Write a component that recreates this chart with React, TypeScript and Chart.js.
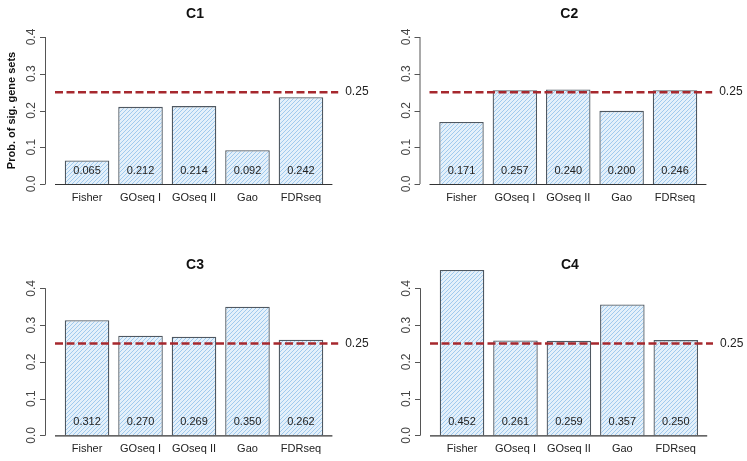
import React, { useEffect, useRef } from "react";
import { Chart, registerables } from "chart.js";

Chart.register(...registerables);

// ---------- data ----------
const categories = ["Fisher", "GOseq I", "GOseq II", "Gao", "FDRseq"];
const panelTitles = ["C1", "C2", "C3", "C4"];

// bar heights as drawn in the picture
const c1Values = [0.064, 0.21, 0.212, 0.092, 0.236];
const c2Values = [0.169, 0.255, 0.257, 0.199, 0.255];
const c3Values = [0.313, 0.271, 0.268, 0.35, 0.26];
const c4Values = [0.45, 0.258, 0.257, 0.356, 0.259];

// printed value labels
const c1Labels = ["0.065", "0.212", "0.214", "0.092", "0.242"];
const c2Labels = ["0.171", "0.257", "0.240", "0.200", "0.246"];
const c3Labels = ["0.312", "0.270", "0.269", "0.350", "0.262"];
const c4Labels = ["0.452", "0.261", "0.259", "0.357", "0.250"];

const yTicks = [0, 0.1, 0.2, 0.3, 0.4];
const yTickLabels = ["0.0", "0.1", "0.2", "0.3", "0.4"];
const refValue = 0.25;
const refLabel = "0.25";
const yTitle = "Prob. of sig. gene sets";

const FONT = "'Liberation Sans', Arial, Helvetica, sans-serif";

type PanelDef = {
  title: string;
  values: number[];
  labels: string[];
  left: number;
  top: number;
  width: number;
  height: number;
  pad: { left: number; right: number; top: number; bottom: number };
  showYTitle: boolean;
};

const panels: PanelDef[] = [
  {
    title: panelTitles[0], values: c1Values, labels: c1Labels,
    left: 0, top: 0, width: 374, height: 220,
    pad: { left: 60.3, right: 46.3, top: 37, bottom: 36 }, showYTitle: true,
  },
  {
    title: panelTitles[1], values: c2Values, labels: c2Labels,
    left: 374, top: 0, width: 373, height: 220,
    pad: { left: 60.8, right: 45.3, top: 37, bottom: 36 }, showYTitle: false,
  },
  {
    title: panelTitles[2], values: c3Values, labels: c3Labels,
    left: 0, top: 220, width: 374, height: 241,
    pad: { left: 60.3, right: 46.3, top: 68.3, bottom: 25.7 }, showYTitle: false,
  },
  {
    title: panelTitles[3], values: c4Values, labels: c4Labels,
    left: 374, top: 220, width: 373, height: 241,
    pad: { left: 61.3, right: 44.5, top: 68.3, bottom: 25.7 }, showYTitle: false,
  },
];

function makeHatch(): CanvasPattern | string {
  const c = document.createElement("canvas");
  const s = 4;
  c.width = s;
  c.height = s;
  const g = c.getContext("2d");
  if (!g) return "#d3e6f6";
  g.fillStyle = "#e4f0fa";
  g.fillRect(0, 0, s, s);
  g.strokeStyle = "#a0caee";
  g.lineWidth = 1;
  g.beginPath();
  g.moveTo(-1, s + 1);
  g.lineTo(s + 1, -1);
  g.moveTo(-1, 1);
  g.lineTo(1, -1);
  g.moveTo(s - 1, s + 1);
  g.lineTo(s + 1, s - 1);
  g.stroke();
  const p = g.createPattern(c, "repeat");
  return p || "#d3e6f6";
}

function PanelChart({ def }: { def: PanelDef }) {
  const ref = useRef<HTMLCanvasElement | null>(null);

  useEffect(() => {
    const canvas = ref.current;
    if (!canvas) return;

    const decor = {
      id: "rDecor",
      afterDatasetsDraw(chart: any) {
        const ctx = chart.ctx as CanvasRenderingContext2D;
        const area = chart.chartArea;
        const ys = chart.scales.y;
        const xs = chart.scales.x;
        const meta = chart.getDatasetMeta(0);

        ctx.save();
        // value labels
        ctx.fillStyle = "#222";
        ctx.font = `11px ${FONT}`;
        ctx.textAlign = "center";
        ctx.textBaseline = "middle";
        def.labels.forEach((t, i) => {
          const x = meta.data[i] ? meta.data[i].x : xs.getPixelForValue(i);
          ctx.fillText(t, x, area.bottom - 13);
        });

        // reference dashed line
        const yr = ys.getPixelForValue(refValue);
        ctx.strokeStyle = "#a6282e";
        ctx.lineWidth = 2.5;
        ctx.setLineDash([8, 3.5]);
        ctx.beginPath();
        ctx.moveTo(area.left - 5.3, yr);
        ctx.lineTo(area.right + 10.5, yr);
        ctx.stroke();
        ctx.setLineDash([]);
        ctx.fillStyle = "#222";
        ctx.font = `12px ${FONT}`;
        ctx.textAlign = "left";
        ctx.fillText(refLabel, area.right + 17.5, yr);

        // x axis line
        const yb = ys.getPixelForValue(0);
        ctx.strokeStyle = "#333";
        ctx.lineWidth = 1.2;
        ctx.beginPath();
        ctx.moveTo(area.left - 5.3, yb + 0.5);
        ctx.lineTo(area.right + 4.7, yb + 0.5);
        ctx.stroke();

        // category labels
        ctx.fillStyle = "#222";
        ctx.font = `11px ${FONT}`;
        ctx.textAlign = "center";
        categories.forEach((c, i) => {
          const x = xs.getPixelForValue(i);
          ctx.fillText(c, x, area.bottom + 13.5);
        });

        // y axis
        const ax = area.left - 15.3;
        const y0 = ys.getPixelForValue(yTicks[0]);
        const y1 = ys.getPixelForValue(yTicks[yTicks.length - 1]);
        ctx.strokeStyle = "#555";
        ctx.lineWidth = 1;
        ctx.beginPath();
        ctx.moveTo(ax + 0.5, y0);
        ctx.lineTo(ax + 0.5, y1);
        yTicks.forEach((v) => {
          const y = Math.round(ys.getPixelForValue(v)) + 0.5;
          ctx.moveTo(ax + 0.5, y);
          ctx.lineTo(ax - 5, y);
        });
        ctx.stroke();
        ctx.fillStyle = "#444";
        ctx.font = `12px ${FONT}`;
        yTicks.forEach((v, i) => {
          const y = ys.getPixelForValue(v);
          ctx.save();
          ctx.translate(ax - 13, y);
          ctx.rotate(-Math.PI / 2);
          ctx.textAlign = "center";
          ctx.textBaseline = "middle";
          ctx.fillText(yTickLabels[i], 0, 0);
          ctx.restore();
        });

        // y title
        if (def.showYTitle) {
          ctx.save();
          ctx.translate(12, (area.top + area.bottom) / 2);
          ctx.rotate(-Math.PI / 2);
          ctx.fillStyle = "#111";
          ctx.font = `bold 11px ${FONT}`;
          ctx.textAlign = "center";
          ctx.textBaseline = "middle";
          ctx.fillText(yTitle, 0, 0);
          ctx.restore();
        }

        // panel title
        ctx.fillStyle = "#111";
        ctx.font = `bold 14px ${FONT}`;
        ctx.textAlign = "center";
        ctx.textBaseline = "middle";
        ctx.fillText(def.title, (area.left + area.right) / 2 + 1, area.top - 23);
        ctx.restore();
      },
    };

    const chart = new Chart(canvas, {
      type: "bar",
      data: {
        labels: categories,
        datasets: [
          {
            data: def.values,
            backgroundColor: makeHatch() as any,
            borderColor: "#4f5861",
            borderWidth: 1.3,
            barPercentage: 1 / 1.2,
            categoryPercentage: 1,
            clip: false as any,
          },
        ],
      },
      options: {
        animation: false,
        responsive: false,
        maintainAspectRatio: false,
        devicePixelRatio: 1,
        events: [],
        layout: { padding: def.pad },
        plugins: {
          legend: { display: false },
          tooltip: { enabled: false },
          title: { display: false },
        },
        scales: {
          x: { display: false, offset: true },
          y: { display: false, min: 0, max: 0.4 },
        },
      },
      plugins: [decor],
    });
    return () => chart.destroy();
  }, [def]);

  return (
    <canvas
      ref={ref}
      width={def.width}
      height={def.height}
      style={{
        position: "absolute",
        left: def.left,
        top: def.top,
        width: def.width,
        height: def.height,
      }}
    />
  );
}

export default function App() {
  return (
    <div
      style={{
        position: "fixed",
        left: 0,
        top: 0,
        width: 747,
        height: 461,
        background: "#ffffff",
        overflow: "hidden",
      }}
    >
      {panels.map((p) => (
        <PanelChart key={p.title} def={p} />
      ))}
    </div>
  );
}
